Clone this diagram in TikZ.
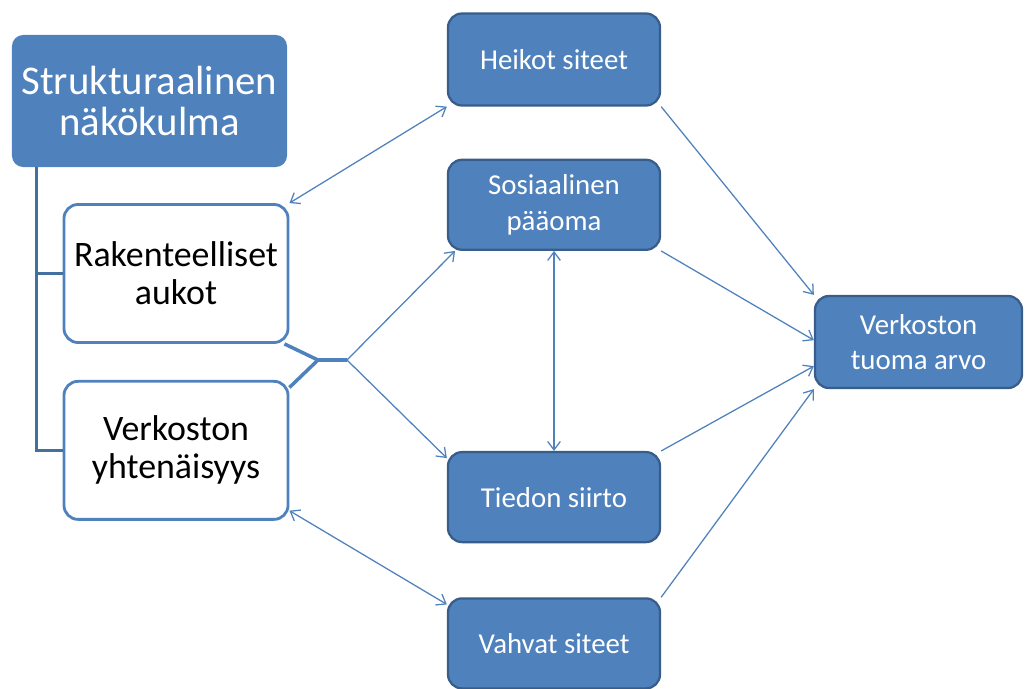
\documentclass[tikz,border=0pt]{standalone}
\usepackage{fontspec}
\setmainfont{Carlito}
\usepackage{tikz}
\usetikzlibrary{arrows.meta}
\usetikzlibrary{positioning}
\definecolor{boxblue}{HTML}{4F81BD}
\definecolor{edgeblue}{HTML}{385D8A}
\definecolor{treeblue}{HTML}{41719C}
\tikzset{
    topic/.style={
           rectangle,
           rounded corners=8pt,
           fill=boxblue,
           text=white,
           inner sep=0pt,
           minimum width=6.875cm, minimum height=3.3cm,
           align=center,
           font=\fontsize{29}{29.5}\selectfont,
           },
}
\tikzset{
    part/.style={
           rectangle,
           rounded corners=10pt,
           draw=boxblue, line width=2pt,
           fill=white,
           inner sep=0pt,
           minimum width=5.6cm, minimum height=3.45cm,
           align=center,
           font=\fontsize{25.5}{27}\selectfont,
           },
}
\tikzset{
    effect/.style={
           rectangle,
           rounded corners=10pt,
           draw=edgeblue, line width=1.6pt,
           fill=boxblue,
           text=white,
           inner sep=0pt,
           minimum width=5.3cm, minimum height=2.25cm,
           align=center,
           font=\fontsize{20.5}{25}\selectfont,
           },
}
\tikzset{
    link/.style={
           draw=boxblue, line width=0.9pt,
           >={Straight Barb[length=6pt,width=9pt]},
           },
}
\tikzset{
    tree/.style={
           draw=treeblue, line width=2pt,
           },
}

\begin{document}
\begin{tikzpicture}[x=0.025cm,y=-0.025cm]
\useasboundingbox (0,0) rectangle (1025,689);
\node[topic](sn) at (149.5,101){Strukturaalinen\\näkökulma};
\node[part](ra) at (176,273.5){Rakenteelliset\\aukot};
\node[part,below = 0.9cm of ra](vy){Verkoston\\yhtenäisyys};
\node[effect,minimum height=2.3cm](hs) at (554,59.5){Heikot siteet};
\node[effect,below = 1.3cm of hs](sp){Sosiaalinen\\pääoma};
\node[effect,below = 5.0cm of sp](ts){Tiedon siirto};
\node[effect,below = 1.35cm of ts](vs){Vahvat siteet};
\node[effect,minimum width=5.175cm,minimum height=2.3cm](vta) at (918.5,342){Verkoston\\tuoma arvo};
\coordinate (top) at ([xshift=0.625cm]sn.south west);
\coordinate (join) at (318,360);
\coordinate (hub) at (347,360);
\draw[tree] (top) |- (vy.west);
\draw[tree] (top) |- (ra.west);
\draw[tree,draw=boxblue,line width=2.5pt] (ra.-33) -- (join) -- (hub);
\draw[tree,draw=boxblue,line width=2.5pt] (vy.29) -- (join);
\draw (hub)edge[link,->](sp.205);
\draw (hub)edge[link,->](ts.160);
\draw (hs.south west)edge[link,<->](ra.north east);
\draw (vy.-28)edge[link,<->](vs.160);
\draw (sp)edge[link,<->](ts);
\draw (hs.south east)edge[link,->](vta.north west);
\draw (sp.south east)edge[link,->](vta.179);
\draw (ts.north east)edge[link,->](vta.193);
\draw (vs.north east)edge[link,->](vta.south west);
\end{tikzpicture}
\end{document}
